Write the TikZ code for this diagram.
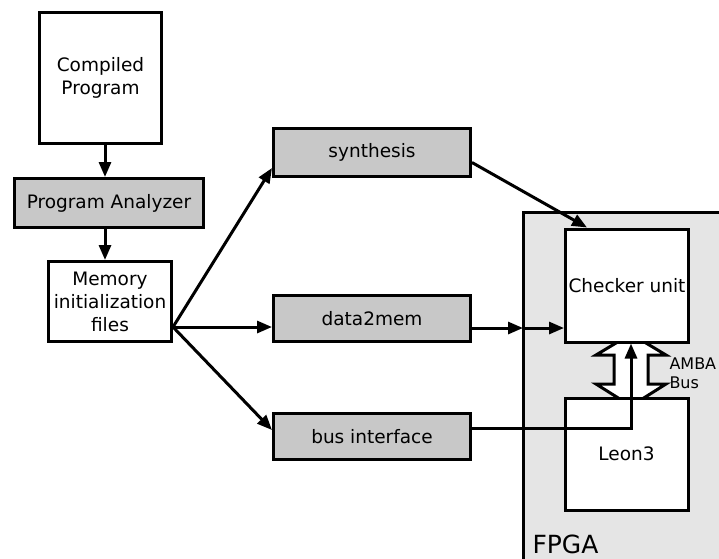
\documentclass[tikz,border=0pt]{standalone}
\usepackage{fontspec}
\setmainfont{DejaVu Sans}
\usetikzlibrary{arrows.meta}
\definecolor{boxgray}{RGB}{200,200,200}
\definecolor{fpgagray}{RGB}{229,229,229}

\begin{document}
\begin{tikzpicture}[
		x=1pt, y=-1pt,
		line width=3pt,
		> = {Triangle[length=15pt,width=12pt]},
		box/.style = {draw, fill=white, inner sep=0pt, align=center, font=\fontsize{18.5}{23}\selectfont},
		graybox/.style = {box, fill=boxgray}
		]

	\useasboundingbox (0,0) rectangle (719,558);
	\clip (0,0) rectangle (719,558);

	% FPGA area
	\draw[fill=fpgagray] (523,212) rectangle (760,600);
	\node (fpgalabel) [anchor=base west, inner sep=0pt, font=\fontsize{25}{25}\selectfont] at (531,553) {FPGA};

	% left column
	\node (prog) [box, minimum width=122pt, minimum height=131pt] at (100.5,78) {Compiled\\Program};
	\node (analyzer) [graybox, minimum width=189pt, minimum height=49pt] at (109,203) {Program Analyzer};
	\node (meminit) [box, minimum width=123pt, minimum height=80pt] at (110,301.5) {Memory\\initialization\\files};

	% middle column
	\node (synth) [graybox, minimum width=197pt, minimum height=48pt] at (372,152.5) {synthesis};
	\node (d2m) [graybox, minimum width=197pt, minimum height=46pt] at (372,318.5) {data2mem};
	\node (busif) [graybox, minimum width=197pt, minimum height=46pt] at (372,436.5) {bus interface};

	% AMBA bus (hollow double arrow)
	\draw[fill=white, line join=miter] (631,334) -- (666,355) -- (648,355) -- (648,384) -- (666,384) -- (631,406)
		-- (596,384) -- (614,384) -- (614,355) -- (596,355) -- cycle;
	\node (amba) [anchor=west, inner sep=0pt, align=left, font=\fontsize{16}{19}\selectfont] at (668,373) {AMBA\\Bus};

	% FPGA blocks
	\node (leon) [box, minimum width=123pt, minimum height=112pt] at (626.5,454) {Leon3};
	\node (checker) [box, minimum width=123pt, minimum height=113pt] at (627,285.5) {Checker unit};

	\coordinate (fan) at (173,327);
	\coordinate (fpgain) at (523,328);

	\draw[->] ([xshift=4.5pt]prog.south) -- ([xshift=4.5pt]prog.south |- analyzer.north);
	\draw[->] ([xshift=-4pt]analyzer.south) -- ([xshift=-4pt]analyzer.south |- meminit.north);
	\draw[->] (fan) -- ([yshift=10pt]synth.south west);
	\draw[->] (fan) -- (fan -| d2m.west);
	\draw[->] (fan) -- ([yshift=-18pt]busif.north west);

	\draw[->] ([yshift=-10pt]synth.east) -- ([xshift=-40pt]checker.north);
	\draw[->] (d2m.east |- fpgain) -- (fpgain);
	\draw[->] (fpgain) -- (fpgain -| checker.west);
	\draw[->] ([yshift=8.5pt]busif.east) -| ([xshift=4pt]checker.south);
\end{tikzpicture}
\end{document}
